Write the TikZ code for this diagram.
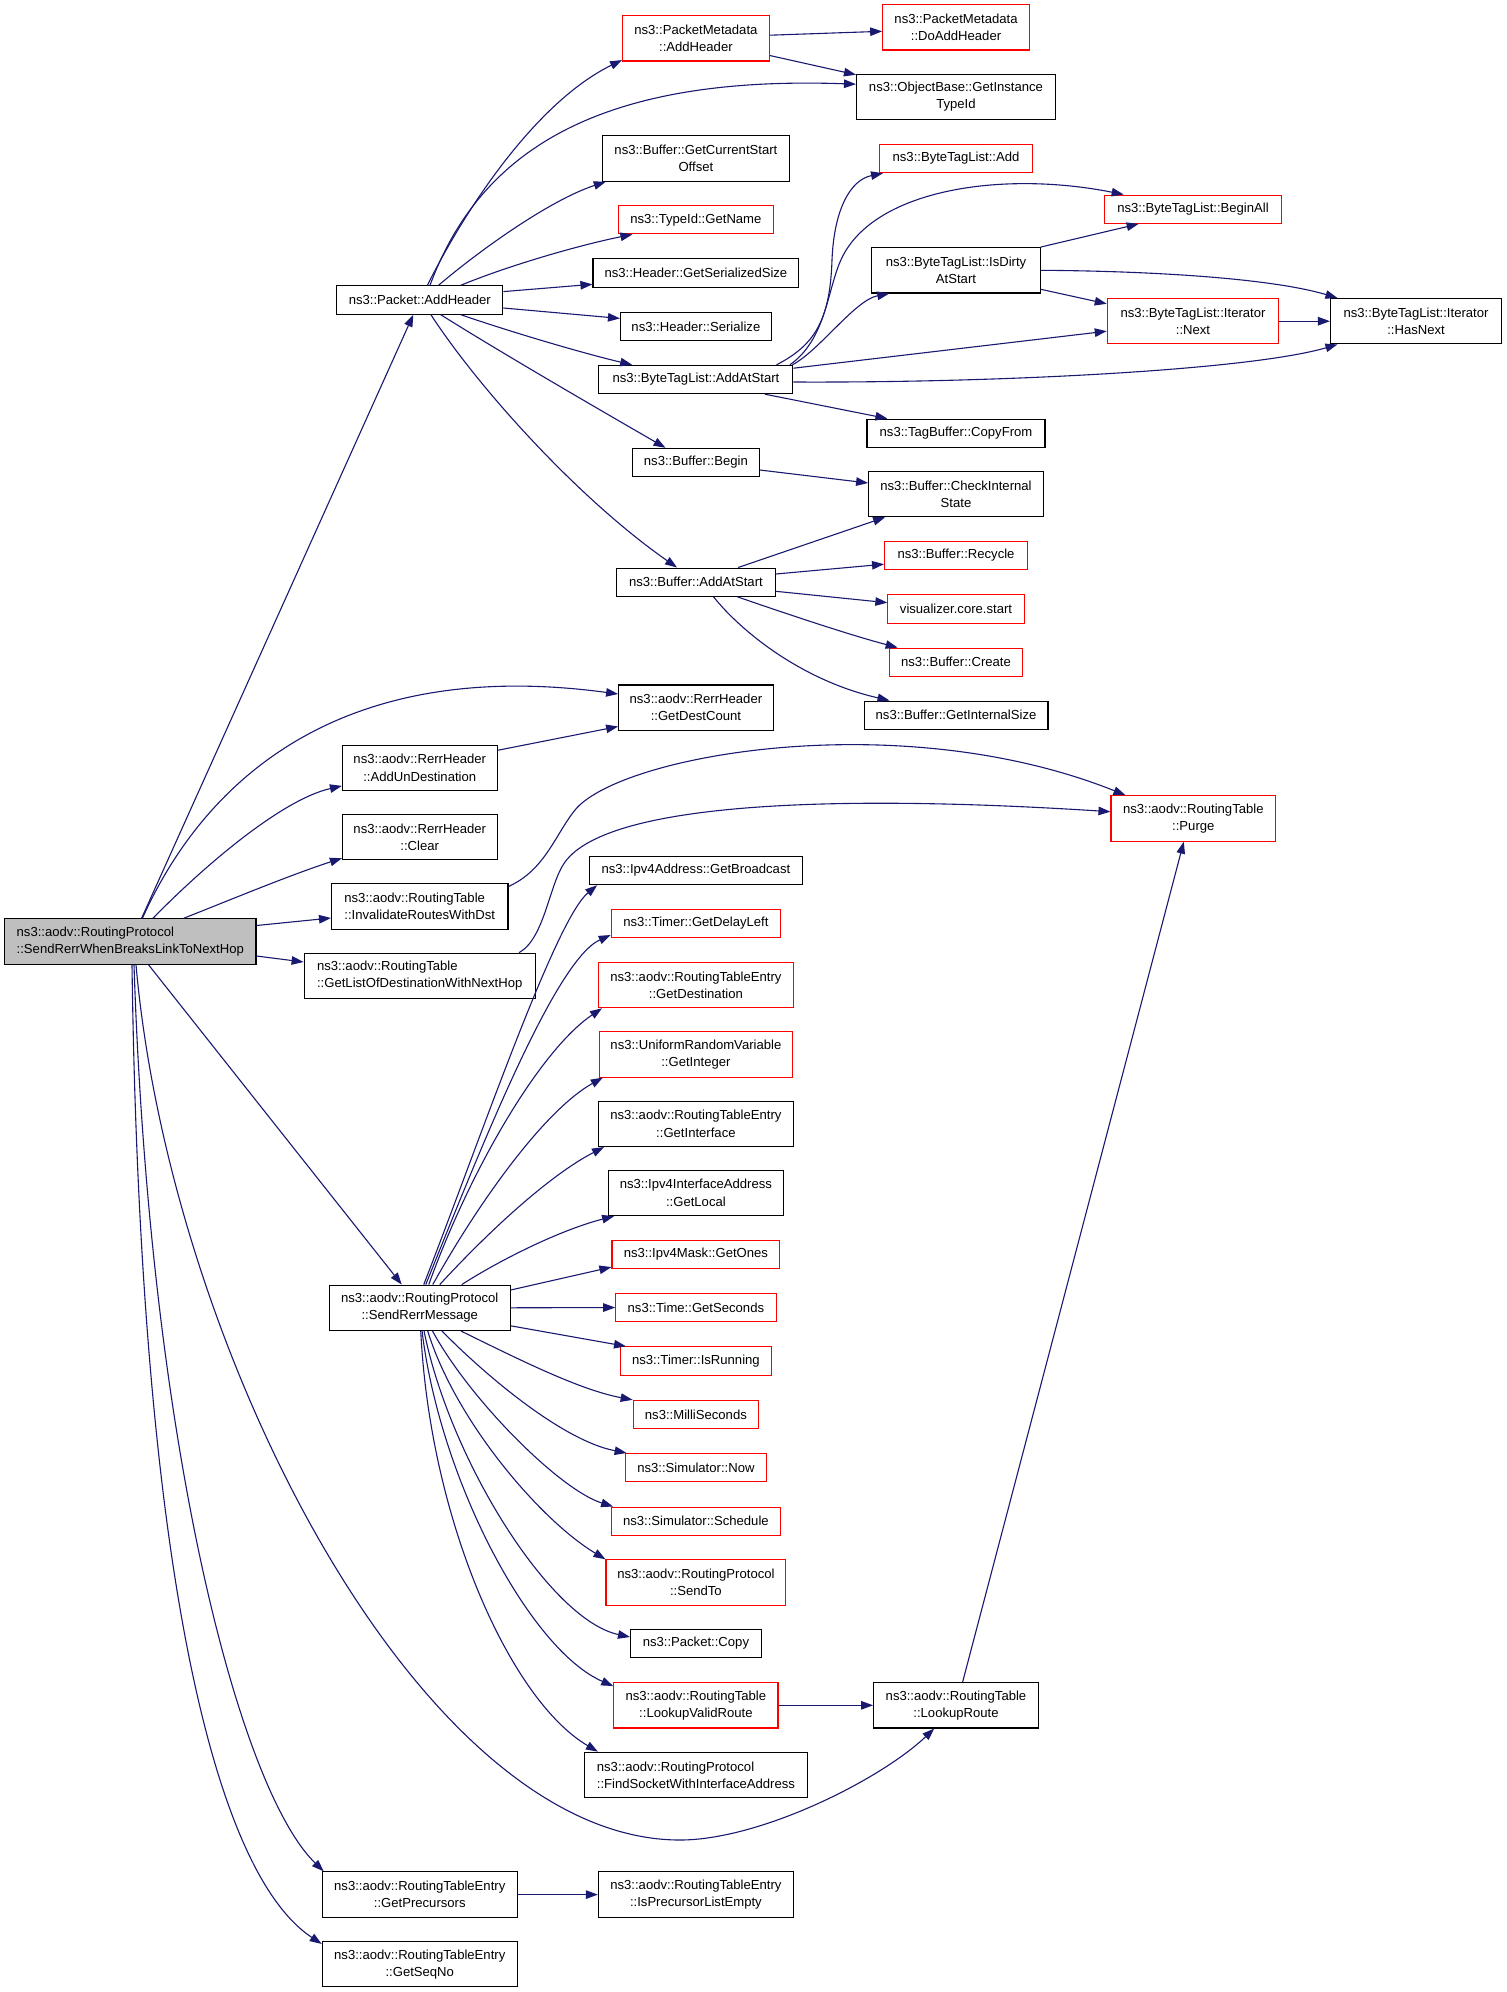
\documentclass[tikz,border=0pt]{standalone}
\usepackage{fontspec}
\setmainfont{Liberation Sans}
\usetikzlibrary{arrows.meta}
\definecolor{edgeblue}{RGB}{25,25,112}
\definecolor{gvred}{RGB}{255,0,0}
\definecolor{gvgray}{RGB}{191,191,191}
\newcommand\gvfont{\fontsize{13.1pt}{17.2pt}\selectfont}
\begin{document}
\begin{tikzpicture}[x=1pt,y=-1pt,
 nb/.style={draw=black, line width=1.1pt, font=\gvfont, align=center, inner sep=0pt, fill=white},
 sbox/.style={nb, minimum height=28.3pt},
 dbox/.style={nb, minimum height=45.4pt},
 redb/.style={draw=gvred},
 edg/.style={draw=edgeblue, line width=1.1pt, -{Triangle[length=12pt,width=8.5pt]}}]
\fill[white] (0,0) rectangle (1507,1992);
\useasboundingbox (0,0) rectangle (1507,1992);

% nodes
\node[dbox, fill=gvgray, align=left, minimum width=251.4pt] (m) at (130.3,941.5) {ns3::aodv::RoutingProtocol\\::SendRerrWhenBreaksLinkToNextHop};
\node[sbox, minimum width=166.1pt] (pah) at (419.75,300) {ns3::Packet::AddHeader};
\node[dbox, redb, minimum width=146.6pt] (pma) at (695.9,38.3) {ns3::PacketMetadata\\::AddHeader};
\node[dbox, redb, minimum width=146.6pt] (dah) at (956,27.3) {ns3::PacketMetadata\\::DoAddHeader};
\node[dbox, minimum width=199pt] (obgt) at (956,97) {ns3::ObjectBase::GetInstance\\TypeId};
\node[dbox, minimum width=187.2pt] (gcso) at (695.9,158.5) {ns3::Buffer::GetCurrentStart\\Offset};
\node[sbox, redb, minimum width=155pt] (tgn) at (695.9,219.7) {ns3::TypeId::GetName};
\node[sbox, minimum width=205.8pt] (gss) at (695.9,273) {ns3::Header::GetSerializedSize};
\node[sbox, minimum width=150.8pt] (hs) at (695.9,326.5) {ns3::Header::Serialize};
\node[sbox, minimum width=194pt] (btlas) at (695.9,379.5) {ns3::ByteTagList::AddAtStart};
\node[sbox, redb, minimum width=152.9pt] (btla) at (956,158.5) {ns3::ByteTagList::Add};
\node[sbox, redb, minimum width=177.6pt] (bta) at (1193,209.2) {ns3::ByteTagList::BeginAll};
\node[dbox, minimum width=168.4pt] (idas) at (956,270.3) {ns3::ByteTagList::IsDirty\\AtStart};
\node[dbox, redb, minimum width=171.4pt] (itn) at (1193,321.2) {ns3::ByteTagList::Iterator\\::Next};
\node[dbox, minimum width=171pt] (hn) at (1416,321.2) {ns3::ByteTagList::Iterator\\::HasNext};
\node[sbox, minimum width=178pt] (tbcf) at (956,433.3) {ns3::TagBuffer::CopyFrom};
\node[sbox, minimum width=126.6pt] (bb) at (695.9,462.5) {ns3::Buffer::Begin};
\node[dbox, minimum width=174.7pt] (bcis) at (956,494) {ns3::Buffer::CheckInternal\\State};
\node[sbox, redb, minimum width=142.8pt] (rec) at (956,555.4) {ns3::Buffer::Recycle};
\node[sbox, minimum width=158.8pt] (baas) at (695.9,582.2) {ns3::Buffer::AddAtStart};
\node[sbox, redb, minimum width=136.2pt] (viz) at (956,609) {visualizer.core.start};
\node[sbox, redb, minimum width=133.6pt] (bcr) at (956,662.3) {ns3::Buffer::Create};
\node[sbox, minimum width=183.9pt] (gis) at (956,715.2) {ns3::Buffer::GetInternalSize};
\node[dbox, minimum width=154.5pt] (gdc) at (695.9,707.7) {ns3::aodv::RerrHeader\\::GetDestCount};
\node[dbox, minimum width=154.6pt] (aud) at (419.75,767.9) {ns3::aodv::RerrHeader\\::AddUnDestination};
\node[dbox, minimum width=154.6pt] (clr) at (419.75,837.2) {ns3::aodv::RerrHeader\\::Clear};
\node[dbox, align=left, minimum width=176.4pt] (inv) at (419.75,906.4) {ns3::aodv::RoutingTable\\::InvalidateRoutesWithDst};
\node[dbox, align=left, minimum width=231.2pt] (gld) at (419.75,975.9) {ns3::aodv::RoutingTable\\::GetListOfDestinationWithNextHop};
\node[dbox, redb, minimum width=164.6pt] (pur) at (1193.3,818.4) {ns3::aodv::RoutingTable\\::Purge};
\node[sbox, minimum width=212.4pt] (gbc) at (695.9,870.5) {ns3::Ipv4Address::GetBroadcast};
\node[sbox, redb, minimum width=169.3pt] (gdl) at (695.9,923.4) {ns3::Timer::GetDelayLeft};
\node[dbox, redb, minimum width=194.7pt] (gde) at (695.9,985) {ns3::aodv::RoutingTableEntry\\::GetDestination};
\node[dbox, redb, minimum width=193.2pt] (gin) at (695.9,1054.4) {ns3::UniformRandomVariable\\::GetInteger};
\node[dbox, minimum width=194.7pt] (gif) at (695.9,1123.8) {ns3::aodv::RoutingTableEntry\\::GetInterface};
\node[dbox, minimum width=174.5pt] (glo) at (695.9,1192.9) {ns3::Ipv4InterfaceAddress\\::GetLocal};
\node[sbox, redb, minimum width=167.9pt] (gon) at (695.9,1254.4) {ns3::Ipv4Mask::GetOnes};
\node[sbox, redb, minimum width=160.3pt] (gse) at (695.9,1307.5) {ns3::Time::GetSeconds};
\node[sbox, redb, minimum width=150.7pt] (irn) at (695.9,1361) {ns3::Timer::IsRunning};
\node[sbox, redb, minimum width=125.4pt] (mil) at (695.9,1414.5) {ns3::MilliSeconds};
\node[sbox, redb, minimum width=141.5pt] (snow) at (695.9,1467.7) {ns3::Simulator::Now};
\node[sbox, redb, minimum width=168.5pt] (sch) at (695.9,1521.2) {ns3::Simulator::Schedule};
\node[dbox, redb, minimum width=179.8pt] (sto) at (695.9,1582.5) {ns3::aodv::RoutingProtocol\\::SendTo};
\node[sbox, minimum width=130.7pt] (pcp) at (695.9,1643.5) {ns3::Packet::Copy};
\node[dbox, redb, minimum width=164.2pt] (lvr) at (695.9,1705.3) {ns3::aodv::RoutingTable\\::LookupValidRoute};
\node[dbox, align=left, minimum width=222.9pt] (fsk) at (695.9,1774.9) {ns3::aodv::RoutingProtocol\\::FindSocketWithInterfaceAddress};
\node[dbox, minimum width=164.7pt] (lr) at (956,1705.3) {ns3::aodv::RoutingTable\\::LookupRoute};
\node[dbox, minimum width=180.8pt] (srm) at (419.75,1307.8) {ns3::aodv::RoutingProtocol\\::SendRerrMessage};
\node[dbox, minimum width=195pt] (gp) at (419.75,1894.6) {ns3::aodv::RoutingTableEntry\\::GetPrecursors};
\node[dbox, minimum width=195pt] (ipe) at (695.9,1894.6) {ns3::aodv::RoutingTableEntry\\::IsPrecursorListEmpty};
\node[dbox, minimum width=195pt] (gsn) at (419.75,1964.2) {ns3::aodv::RoutingTableEntry\\::GetSeqNo};

% edges from main
\draw[edg] ([xshift=11.3pt]m.north) -- ([xshift=-6.45pt]pah.south);
\draw[edg] ([xshift=12.1pt]m.north) .. controls (200,790) and (330,655) .. ([yshift=13.7pt]gdc.west);
\draw[edg] ([xshift=22.7pt]m.north) .. controls (200,870) and (280,800) .. ([yshift=-18pt]aud.west);
\draw[edg] ([xshift=53.4pt]m.north) .. controls (230,900) and (290,875) .. ([yshift=-21pt]clr.west);
\draw[edg] ([yshift=16pt]m.east) -- ([yshift=-11.6pt]inv.west);
\draw[edg] ([yshift=-14.5pt]m.east) -- ([yshift=13.9pt]gld.west);
\draw[edg] ([xshift=18.2pt]m.south) -- ([xshift=-18pt]srm.north);
\draw[edg] ([xshift=5.7pt]m.south) .. controls (170,1350) and (420,1840) .. (680,1840) .. controls (760,1840) and (880,1780) .. ([xshift=-21.8pt]lr.south);
\draw[edg] ([xshift=3.7pt]m.south) .. controls (150,1450) and (240,1790) .. ([xshift=2pt]gp.north west);
\draw[edg] ([xshift=1.7pt]m.south) .. controls (140,1550) and (210,1870) .. ([yshift=-3pt]gsn.north west);

% edges from Packet::AddHeader
\draw[edg] ([xshift=7.65pt]pah.north) .. controls (470,200) and (540,100) .. ([yshift=1.5pt]pma.south west);
\draw[edg] ([xshift=10.25pt]pah.north) .. controls (480,150) and (600,75) .. ([yshift=12.8pt]obgt.west);
\draw[edg] ([xshift=18.75pt]pah.north) .. controls (480,250) and (550,200) .. ([xshift=4pt]gcso.south west);
\draw[edg] ([xshift=41pt]pah.north) .. controls (510,265) and (580,245) .. ([xshift=14.6pt]tgn.south west);
\draw[edg] ([yshift=8.4pt]pah.east) -- ([yshift=-11.3pt]gss.west);
\draw[edg] ([yshift=-8pt]pah.east) -- ([yshift=8.1pt]hs.west);
\draw[edg] ([xshift=41pt]pah.south) .. controls (520,335) and (590,355) .. ([xshift=-63.7pt]btlas.north);
\draw[edg] ([xshift=21pt]pah.south) .. controls (500,352) and (600,410) .. ([xshift=-30.4pt]bb.north);
\draw[edg] ([xshift=11.15pt]pah.south) .. controls (480,390) and (580,500) .. ([xshift=-18.9pt]baas.north);

% PacketMetadata
\draw[edg] ([yshift=3.1pt]pma.east) -- ([yshift=-4pt]dah.west);
\draw[edg] ([yshift=-17.2pt]pma.east) -- ([yshift=-1pt]obgt.north west);

% ByteTagList::AddAtStart
\draw[edg] ([xshift=80.6pt]btlas.north) .. controls (815,345) and (830,320) .. (832,260) .. controls (834,210) and (850,180) .. ([xshift=4pt]btla.south west);
\draw[edg] ([xshift=94pt]btlas.north) .. controls (825,340) and (827,293) .. (840,262) .. controls (870,190) and (1000,170) .. ([xshift=20pt]bta.north west);
\draw[edg] ([xshift=-1pt]btlas.north east) .. controls (820,350) and (855,300) .. ([xshift=18pt]idas.south west);
\draw[edg] ([yshift=11.3pt]btlas.east) -- ([yshift=-10pt]itn.west);
\draw[edg] ([yshift=-2.5pt]btlas.east) .. controls (1000,383) and (1250,370) .. ([xshift=7.5pt]hn.south west);
\draw[edg] ([xshift=69.1pt]btlas.south) -- ([xshift=21pt]tbcf.north west);

% IsDirtyAtStart
\draw[edg] (idas.north east) -- ([xshift=35pt]bta.south west);
\draw[edg] (idas.east) .. controls (1150,271) and (1270,278) .. ([xshift=7.5pt]hn.north west);
\draw[edg] ([yshift=-19pt]idas.east) -- ([yshift=17.4pt]itn.west);
\draw[edg] (itn.east) -- (hn.west);

% Buffer
\draw[edg] ([yshift=-7.5pt]bb.east) -- ([yshift=11pt]bcis.west);
\draw[edg] ([xshift=42.3pt]baas.north) -- ([xshift=17pt]bcis.south west);
\draw[edg] ([yshift=8.2pt]baas.east) -- ([yshift=-8.8pt]rec.west);
\draw[edg] ([yshift=-9.1pt]baas.east) -- ([yshift=6.3pt]viz.west);
\draw[edg] ([xshift=41.7pt]baas.south) .. controls (790,615) and (850,635) .. ([xshift=9pt]bcr.north west);
\draw[edg] ([xshift=17.7pt]baas.south) .. controls (740,630) and (800,680) .. ([xshift=26pt]gis.north west);

% RerrHeader / RoutingTable
\draw[edg] ([yshift=17.6pt]aud.east) -- ([yshift=-18.8pt]gdc.west);
\draw[edg] ([yshift=19.9pt]inv.east) .. controls (545,870) and (555,835) .. (575,810) .. controls (620,755) and (900,705) .. ([xshift=15pt]pur.north west);
\draw[edg] ([xshift=-16.8pt]gld.north east) .. controls (545,938) and (549,884) .. (565,862) .. controls (610,800) and (850,795) .. ([yshift=6.7pt]pur.west);
\draw[edg] ([xshift=6.6pt]lr.north) -- ([xshift=-9.5pt]pur.south);
\draw[edg] (lvr.east) -- (lr.west);
\draw[edg] (gp.east) -- (ipe.west);

% SendRerrMessage
\draw[edg] ([xshift=4pt]srm.north) .. controls (480,1140) and (555,920) .. ([xshift=8pt]gbc.south west);
\draw[edg] ([xshift=6pt]srm.north) .. controls (480,1150) and (555,960) .. ([yshift=-11.6pt]gdl.west);
\draw[edg] ([xshift=9pt]srm.north) .. controls (470,1170) and (540,1050) .. ([xshift=4pt]gde.south west);
\draw[edg] ([xshift=13pt]srm.north) .. controls (480,1200) and (545,1110) .. ([xshift=4pt]gin.south west);
\draw[edg] ([xshift=20pt]srm.north) .. controls (490,1230) and (550,1175) .. ([xshift=6pt]gif.south west);
\draw[edg] ([xshift=42pt]srm.north) .. controls (500,1260) and (560,1230) .. ([xshift=6pt]glo.south west);
\draw[edg] ([yshift=17.8pt]srm.east) -- ([yshift=2pt]gon.south west);
\draw[edg] (srm.east) -- (gse.west);
\draw[edg] ([yshift=-18pt]srm.east) -- ([xshift=6pt]irn.north west);
\draw[edg] ([xshift=41.3pt]srm.south) .. controls (520,1360) and (580,1390) .. (mil.north west);
\draw[edg] ([xshift=22.3pt]srm.south) .. controls (480,1370) and (560,1440) .. ([xshift=2pt]snow.north west);
\draw[edg] ([xshift=12.8pt]srm.south) .. controls (470,1400) and (560,1490) .. ([xshift=2pt]sch.north west);
\draw[edg] ([xshift=8pt]srm.south) .. controls (455,1420) and (540,1520) .. (sto.north west);
\draw[edg] ([xshift=4.3pt]srm.south) .. controls (450,1460) and (550,1620) .. ([yshift=6.5pt]pcp.west);
\draw[edg] ([xshift=2.3pt]srm.south) .. controls (440,1480) and (530,1650) .. ([yshift=-4pt]lvr.north west);
\draw[edg] ([xshift=1pt]srm.south) .. controls (430,1520) and (510,1700) .. ([xshift=14pt]fsk.north west);
\end{tikzpicture}
\end{document}
